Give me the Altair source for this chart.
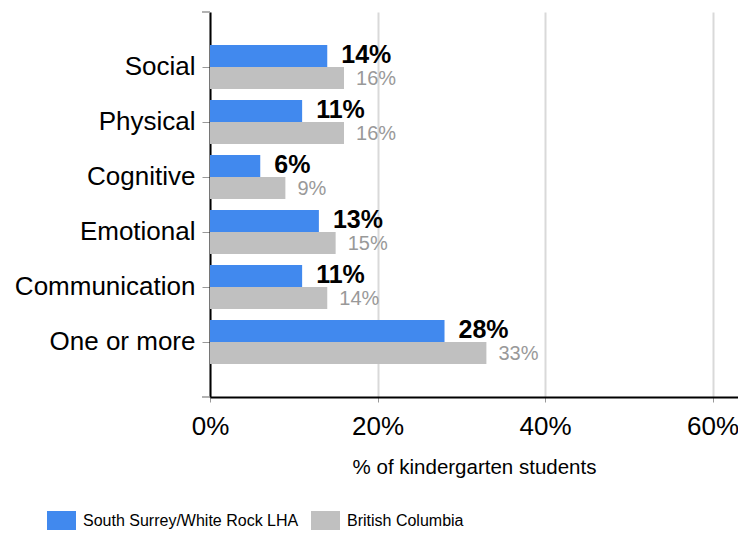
import altair as alt
import pandas as pd

categories = ["Social", "Physical", "Cognitive", "Emotional", "Communication", "One or more"]
lha_values = [14, 11, 6, 13, 11, 28]
bc_values = [16, 16, 9, 15, 14, 33]
series_names = ["South Surrey/White Rock LHA", "British Columbia"]
series_colors = ["#4189ee", "#c0c0c0"]
x_ticks = [0, 20, 40, 60]

rows = []
for c, a, b in zip(categories, lha_values, bc_values):
    rows.append({"category": c, "series": series_names[0], "value": a, "label": f"{a}%"})
    rows.append({"category": c, "series": series_names[1], "value": b, "label": f"{b}%"})
df = pd.DataFrame(rows)

W, H = 528, 385
FONT = "Liberation Sans"
RECT = "M-1,-0.655L1,-0.655L1,0.655L-1,0.655Z"

y_enc = alt.Y(
    "category:N",
    sort=categories,
    scale=alt.Scale(paddingInner=0.2, paddingOuter=0.6),
    axis=alt.Axis(
        title=None,
        domainColor="black",
        domainWidth=2,
        tickColor="#999999",
        tickSize=8,
        tickWidth=1,
        labelFont=FONT,
        labelFontSize=26,
        labelColor="black",
        labelPadding=7,
        labelLimit=400,
        grid=False,
    ),
)
yoff = alt.YOffset("series:N", sort=series_names, scale=alt.Scale(paddingInner=0, paddingOuter=0))
x_enc = alt.X(
    "value:Q",
    scale=alt.Scale(domain=[0, 63.04], nice=False, zero=True),
    axis=alt.Axis(
        values=x_ticks,
        labelExpr="datum.value + '%'",
        labelFlush=False,
        title="% of kindergarten students",
        domainColor="black",
        domainWidth=2,
        grid=True,
        gridColor="#d9d9d9",
        gridWidth=2,
        tickColor="#999999",
        tickSize=5,
        labelFont=FONT,
        labelFontSize=26,
        labelColor="black",
        labelPadding=11,
        titleFont=FONT,
        titleFontSize=20.5,
        titleFontWeight="normal",
        titleColor="black",
        titlePadding=18,
    ),
)

base = alt.Chart(df)

bars = base.mark_bar().encode(
    x=x_enc,
    y=y_enc,
    yOffset=yoff,
    color=alt.Color(
        "series:N",
        sort=series_names,
        scale=alt.Scale(domain=series_names, range=series_colors),
        legend=alt.Legend(
            title=None,
            orient="none",
            legendX=-163,
            legendY=494,
            direction="horizontal",
            symbolType=RECT,
            symbolSize=841,
            symbolStrokeWidth=0,
            symbolOpacity=1,
            labelFont=FONT,
            labelFontSize=16,
            labelColor="black",
            labelOffset=7,
            labelLimit=400,
            columnPadding=12,
        ),
    ),
)

lha_text = base.transform_filter(alt.datum.series == series_names[0]).mark_text(
    align="left", baseline="middle", dx=14, dy=-1, font=FONT, fontSize=25, fontWeight="bold", color="black"
).encode(x="value:Q", y=alt.Y("category:N", sort=categories), yOffset=yoff, text="label:N")

bc_text = base.transform_filter(alt.datum.series == series_names[1]).mark_text(
    align="left", baseline="middle", dx=12, dy=1, font=FONT, fontSize=20, color="#999999"
).encode(x="value:Q", y=alt.Y("category:N", sort=categories), yOffset=yoff, text="label:N")

ends = pd.DataFrame({"pos": ["top", "bottom"]})
top_tick = alt.Chart(ends).mark_rule(color="#999999", strokeWidth=1).encode(
    x=alt.value(-8), x2=alt.value(0), y=alt.value(0)
)
bottom_tick = alt.Chart(ends).mark_rule(color="#999999", strokeWidth=1).encode(
    x=alt.value(-8), x2=alt.value(0), y=alt.value(H)
)

chart = alt.layer(bars, lha_text, bc_text, top_tick, bottom_tick).properties(
    width=W,
    height=H,
    autosize=alt.AutoSizeParams(type="none"),
    padding={"left": 202, "top": 4, "right": 0, "bottom": 133},
).configure_view(stroke=None)

chart.save("out.html", embed_options={"renderer": "svg", "actions": False})
